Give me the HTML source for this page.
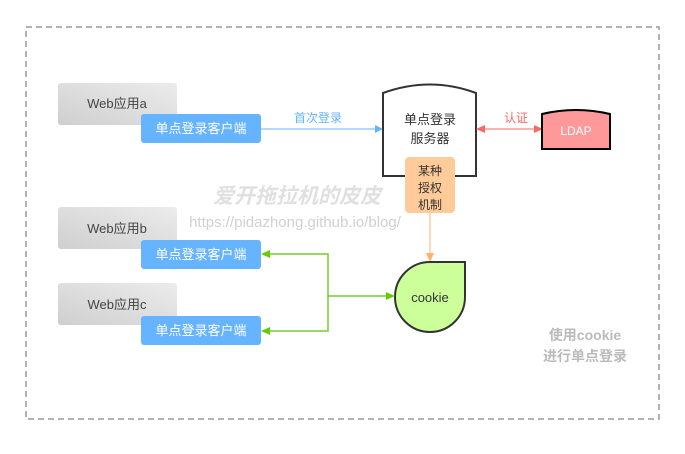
<!DOCTYPE html>
<html><head><meta charset="utf-8"><style>
body{margin:0;background:#fff;}
svg text{font-family:"Liberation Sans","Noto Sans CJK SC",sans-serif;}
</style></head><body>
<svg width="685" height="449" viewBox="0 0 685 449" xmlns="http://www.w3.org/2000/svg">
<defs>
<linearGradient id="g" x1="0" y1="1" x2="1" y2="0"><stop offset="0" stop-color="#cfcfcf"/><stop offset="1" stop-color="#ececec"/></linearGradient>
</defs>
<rect x="26" y="27" width="633" height="392" fill="none" stroke="#999" stroke-width="1.5" stroke-dasharray="6,4"/>
<rect x="58" y="83" width="119" height="42" rx="3" fill="url(#g)"/>
<text x="117" y="108" font-size="13" fill="#444" text-anchor="middle">Web应用a</text>
<rect x="58" y="207" width="119" height="42" rx="3" fill="url(#g)"/>
<text x="117" y="233" font-size="13" fill="#444" text-anchor="middle">Web应用b</text>
<rect x="58" y="283" width="119" height="42" rx="3" fill="url(#g)"/>
<text x="117" y="309" font-size="13" fill="#444" text-anchor="middle">Web应用c</text>
<g font-size="13" fill="#fff" text-anchor="middle">
<rect x="141" y="114" width="120" height="29" rx="3" fill="#66b3ff"/><text x="201" y="133">单点登录客户端</text>
<rect x="141" y="240" width="120" height="29" rx="3" fill="#66b3ff"/><text x="201" y="259">单点登录客户端</text>
<rect x="141" y="316" width="120" height="29" rx="3" fill="#66b3ff"/><text x="201" y="335">单点登录客户端</text>
</g>
<line x1="261" y1="129" x2="377" y2="129" stroke="#99ccff" stroke-width="1.5"/>
<polygon points="383,129 375,125 375,133" fill="#66b3ff"/>
<text x="318" y="122" font-size="12" fill="#66b3ff" text-anchor="middle">首次登录</text>
<path d="M383,93 Q430,76 476,93 L476,176 L383,176 Z" fill="#fff" stroke="#333" stroke-width="2"/>
<text x="430" y="124" font-size="13" fill="#333" text-anchor="middle">单点登录</text>
<text x="430" y="143" font-size="13" fill="#333" text-anchor="middle">服务器</text>
<rect x="405" y="157" width="50" height="56" rx="4" fill="#ffcc99"/>
<text x="430" y="175" font-size="12" fill="#333" text-anchor="middle">某种</text>
<text x="430" y="192" font-size="12" fill="#333" text-anchor="middle">授权</text>
<text x="430" y="209" font-size="12" fill="#333" text-anchor="middle">机制</text>
<line x1="430" y1="213" x2="430" y2="254" stroke="#ffcc99" stroke-width="1.5"/>
<polygon points="430,262 426,253 434,253" fill="#ffb366"/>
<line x1="484" y1="129" x2="535" y2="129" stroke="#ff9999" stroke-width="1.5"/>
<polygon points="476,129 485,125 485,133" fill="#ff6666"/>
<polygon points="543,129 534,125 534,133" fill="#ff6666"/>
<text x="516" y="122" font-size="12" fill="#ff6666" text-anchor="middle">认证</text>
<path d="M542,114 Q576,106 610,114 L610,149 L542,149 Z" fill="#ff9999" stroke="#000" stroke-width="2"/>
<text x="576" y="135" font-size="12" fill="#fff" text-anchor="middle">LDAP</text>
<path d="M430,262 L465,262 L465,297 A35,35 0 1 1 395,297 A35,35 0 0 1 430,262 Z" fill="#ccff99" stroke="#333" stroke-width="2"/>
<text x="430" y="302" font-size="13" fill="#333" text-anchor="middle">cookie</text>
<g stroke="#77cc33" stroke-width="1.5" fill="none">
<polyline points="269,254 328,254 328,331 269,331"/>
<line x1="328" y1="296" x2="387" y2="296"/>
</g>
<g fill="#66cc00">
<polygon points="261,254 270,250 270,258"/>
<polygon points="261,331 270,327 270,335"/>
<polygon points="395,296 386,292 386,300"/>
</g>
<text x="297" y="203" font-size="21" font-weight="bold" font-style="italic" fill="#e0e0e0" text-anchor="middle">爱开拖拉机的皮皮</text>
<text x="295" y="227" font-size="15" fill="#d0d0d0" text-anchor="middle">https://pidazhong.github.io/blog/</text>
<text x="585" y="340" font-size="14" font-weight="bold" fill="#bbb" text-anchor="middle">使用cookie</text>
<text x="585" y="361" font-size="14" font-weight="bold" fill="#bbb" text-anchor="middle">进行单点登录</text>
</svg>
</body></html>
